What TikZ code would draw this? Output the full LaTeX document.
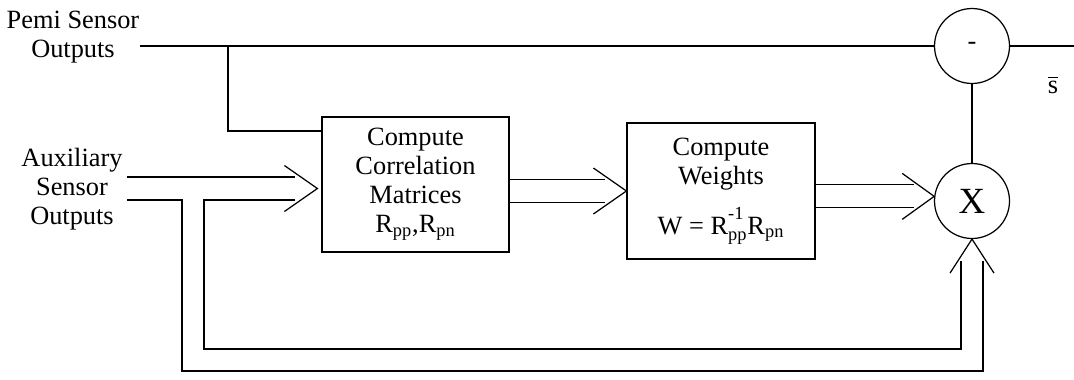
\documentclass[tikz,border=0pt]{standalone}
\usepackage{fontspec}
\usepackage{amsmath}
\setmainfont{Liberation Serif}
\usetikzlibrary{calc}

\begin{document}
\begin{tikzpicture}[x=0.02cm,y=-0.02cm,
   font=\fontsize{15}{16.5}\selectfont,
   lbl/.style={align=center,inner sep=0pt},
   proc/.style={rectangle,draw,line width=0.7pt,align=center,inner sep=0pt},
   junc/.style={circle,draw,line width=0.7pt,minimum size=1.5cm,inner sep=0pt},
   wire/.style={line width=0.7pt},
   chev/.style={line width=0.7pt,line join=miter}]

  \useasboundingbox (0,0) rectangle (1074,379);

  \node[lbl] (pemi) at (73,37) {Pemi Sensor\\Outputs};
  \node[lbl] (aux) at (72,189) {Auxiliary\\Sensor\\Outputs};
  \node[proc,minimum width=3.74cm,minimum height=2.7cm] (corr) at (415.5,184.5)
    {Compute\\Correlation\\Matrices\\R$_{\text{pp}}$,R$_{\text{pn}}$};
  \node[proc,minimum width=3.76cm,minimum height=2.72cm] (wts) at (721,191)
    {Compute\\Weights\\[9pt]W = R$^{\text{\raisebox{3pt}{-1}}}_{\text{pp}}$R$_{\text{pn}}$};
  \node[junc] (sub) at (972,46) {-};
  \node[junc,font=\fontsize{21}{24}\selectfont] (mul) at (972,201) {X};
  \node[lbl] (sbar) at (1053,85) {$\overline{\text{s}}$};

  % free ends and arrow tips
  \coordinate (pin) at (140,46);
  \coordinate (pbr) at (228,46);
  \coordinate (sout) at (1074,46);
  \coordinate (ain) at (127,0);
  \coordinate (t1) at ($(corr.west)+(-4,4)$);
  \coordinate (t2) at (wts.west);
  \coordinate (t3) at (mul.173);
  \coordinate (t4) at (mul.south);
  \coordinate (t1a) at ($(t1)+(-22,-11.5)$);
  \coordinate (t1b) at ($(t1)+(-22,11.5)$);
  \coordinate (t2a) at ($(t2)+(-21,-11.5)$);
  \coordinate (t2b) at ($(t2)+(-21,11.5)$);
  \coordinate (t3a) at ($(t3)+(-20,-11.5)$);
  \coordinate (t3b) at ($(t3)+(-20,11.5)$);
  \coordinate (t4a) at ($(t4)+(-11,22)$);
  \coordinate (t4b) at ($(t4)+(11,22)$);

  \draw[wire] (pin) -- (sub.west);
  \draw[wire] (sub.east) -- (sout);
  \draw[wire] (pbr) |- (corr.west |- 0,131);
  \draw[wire] (sub) -- (mul);

  \draw[wire] (ain |- t1a) -- (t1a);
  \draw[chev] ($(t1)+(-33,-23)$) -- (t1) -- ($(t1)+(-33,23)$);

  \draw[wire] (corr.east |- t2a) -- (t2a);
  \draw[wire] (corr.east |- t2b) -- (t2b);
  \draw[chev] ($(t2)+(-33,-23)$) -- (t2) -- ($(t2)+(-33,23)$);

  \draw[wire] (wts.east |- t3a) -- (t3a);
  \draw[wire] (wts.east |- t3b) -- (t3b);
  \draw[chev] ($(t3)+(-32,-23)$) -- (t3) -- ($(t3)+(-32,23)$);

  % feedback loops into the multiplier
  \draw[wire] (ain |- t1b) -| (182,371) -| (t4b);
  \draw[wire] (t1b) -| (204,349) -| (t4a);
  \draw[chev] ($(t4)+(-22,34)$) -- (t4) -- ($(t4)+(22,34)$);
\end{tikzpicture}
\end{document}
